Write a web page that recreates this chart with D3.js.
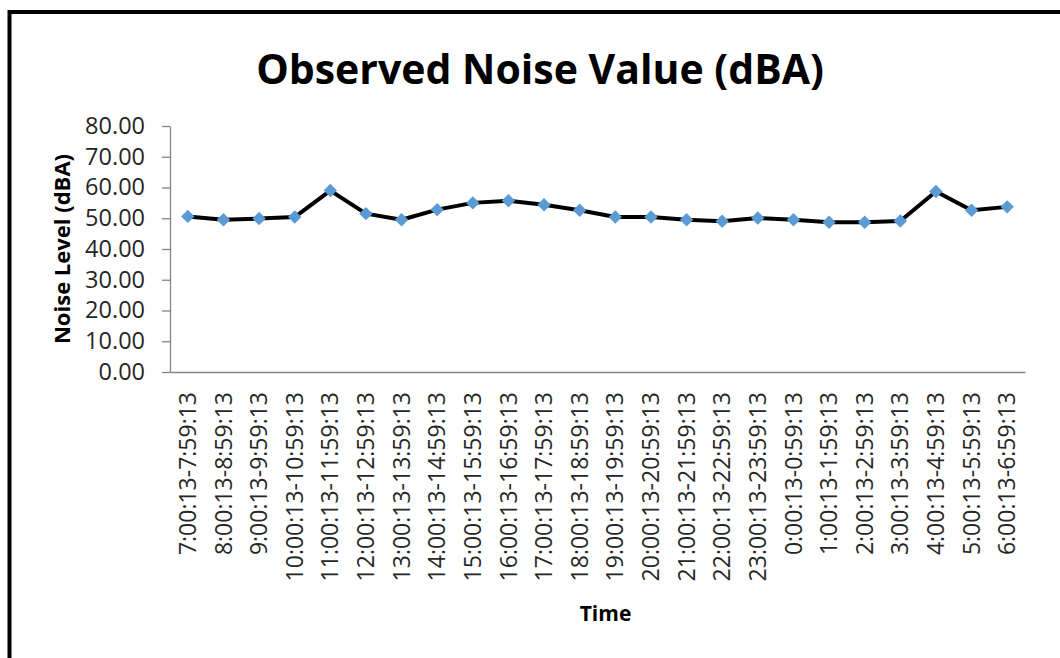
<!DOCTYPE html>
<html>
<head>
<meta charset="utf-8">
<script src="https://cdn.jsdelivr.net/npm/d3@7"></script>
<style>
  html, body { margin: 0; padding: 0; background: #fff; }
  svg { display: block; }
  .axis .domain { stroke: #868686; stroke-width: 1.3; }
  .axis line { stroke: #868686; stroke-width: 1.3; }
  .tick-label { fill: #262626; }
  .label { font-weight: bold; fill: #000; }
</style>
</head>
<body>
<script>
const outerWidth = 1060;
const outerHeight = 658;
const margin = { left: 170, top: 126, right: 35, bottom: 286 };
const innerWidth = outerWidth - margin.left - margin.right;
const innerHeight = outerHeight - margin.top - margin.bottom;
const fontFamily = "'Open Sans', sans-serif";

const titleText = "Observed Noise Value (dBA)";
const xAxisLabelText = "Time";
const yAxisLabelText = "Noise Level (dBA)";

const timeSlots = [
  "7:00:13-7:59:13", "8:00:13-8:59:13", "9:00:13-9:59:13", "10:00:13-10:59:13",
  "11:00:13-11:59:13", "12:00:13-12:59:13", "13:00:13-13:59:13", "14:00:13-14:59:13",
  "15:00:13-15:59:13", "16:00:13-16:59:13", "17:00:13-17:59:13", "18:00:13-18:59:13",
  "19:00:13-19:59:13", "20:00:13-20:59:13", "21:00:13-21:59:13", "22:00:13-22:59:13",
  "23:00:13-23:59:13", "0:00:13-0:59:13", "1:00:13-1:59:13", "2:00:13-2:59:13",
  "3:00:13-3:59:13", "4:00:13-4:59:13", "5:00:13-5:59:13", "6:00:13-6:59:13"
];
const noiseLevels = [
  50.6, 49.5, 49.9, 50.4, 59.0, 51.5, 49.5, 52.8, 55.0, 55.7, 54.4, 52.6,
  50.4, 50.4, 49.5, 49.0, 50.1, 49.5, 48.7, 48.7, 49.1, 58.7, 52.6, 53.7
];
const yTicks = [0, 10, 20, 30, 40, 50, 60, 70, 80];

const data = timeSlots.map((t, i) => ({ time: t, value: noiseLevels[i] }));

const svg = d3.select("body").append("svg")
  .attr("width", outerWidth)
  .attr("height", outerHeight)
  .attr("font-family", fontFamily);

// chart frame: only top and left edges show, the rest is cropped off
svg.append("path")
  .attr("d", `M9.5,${outerHeight} V12 H${outerWidth}`)
  .attr("fill", "none")
  .attr("stroke", "#000")
  .attr("stroke-width", 4);

svg.append("text")
  .attr("class", "label")
  .attr("x", 540)
  .attr("y", 84)
  .attr("text-anchor", "middle")
  .attr("font-size", 41)
  .text(titleText);

const g = svg.append("g")
  .attr("transform", `translate(${margin.left}, ${margin.top})`);

const xScale = d3.scaleBand().domain(timeSlots).range([0, innerWidth]);
const yScale = d3.scaleLinear().domain([0, 80]).range([innerHeight, 0]);
const fmt = d3.format(".2f");

// axis lines from d3.axis, labels drawn as plain texts below
g.append("g")
  .attr("class", "x axis")
  .attr("transform", `translate(0, ${innerHeight})`)
  .call(d3.axisBottom(xScale).tickSize(0).tickSizeOuter(0).tickFormat(""));

g.append("g")
  .attr("class", "y axis")
  .call(d3.axisLeft(yScale).tickValues(yTicks).tickSize(8).tickSizeOuter(0).tickFormat(""));

g.selectAll("text.x-tick").data(timeSlots).enter().append("text")
  .attr("class", "tick-label x-tick")
  .attr("font-size", 23)
  .attr("text-anchor", "end")
  .attr("dy", "0.35em")
  .attr("transform", d => `translate(${xScale(d) + xScale.bandwidth() / 2}, ${innerHeight + 20}) rotate(-90)`)
  .text(d => d);

g.selectAll("text.y-tick").data(yTicks).enter().append("text")
  .attr("class", "tick-label y-tick")
  .attr("font-size", 23.5)
  .attr("text-anchor", "end")
  .attr("x", -25)
  .attr("y", d => yScale(d))
  .attr("dy", "0.34em")
  .text(d => fmt(d));

g.append("text")
  .attr("class", "label")
  .attr("text-anchor", "middle")
  .attr("font-size", 22)
  .attr("transform", `translate(${70 - margin.left}, ${innerHeight / 2}) rotate(-90)`)
  .text(yAxisLabelText);

g.append("text")
  .attr("class", "label")
  .attr("text-anchor", "middle")
  .attr("font-size", 21)
  .attr("x", innerWidth / 2 + 8)
  .attr("y", 621 - margin.top)
  .text(xAxisLabelText);

const line = d3.line()
  .x(d => xScale(d.time) + xScale.bandwidth() / 2)
  .y(d => yScale(d.value));

g.append("path")
  .datum(data)
  .attr("fill", "none")
  .attr("stroke", "#000")
  .attr("stroke-width", 4)
  .attr("stroke-linejoin", "round")
  .attr("d", line);

const diamond = d3.symbol().type(d3.symbolSquare).size(90);

g.selectAll("path.marker").data(data).enter().append("path")
  .attr("class", "marker")
  .attr("d", diamond)
  .attr("fill", "#5b9bd5")
  .attr("transform", d => `translate(${xScale(d.time) + xScale.bandwidth() / 2}, ${yScale(d.value)}) rotate(45)`);
</script>
</body>
</html>
